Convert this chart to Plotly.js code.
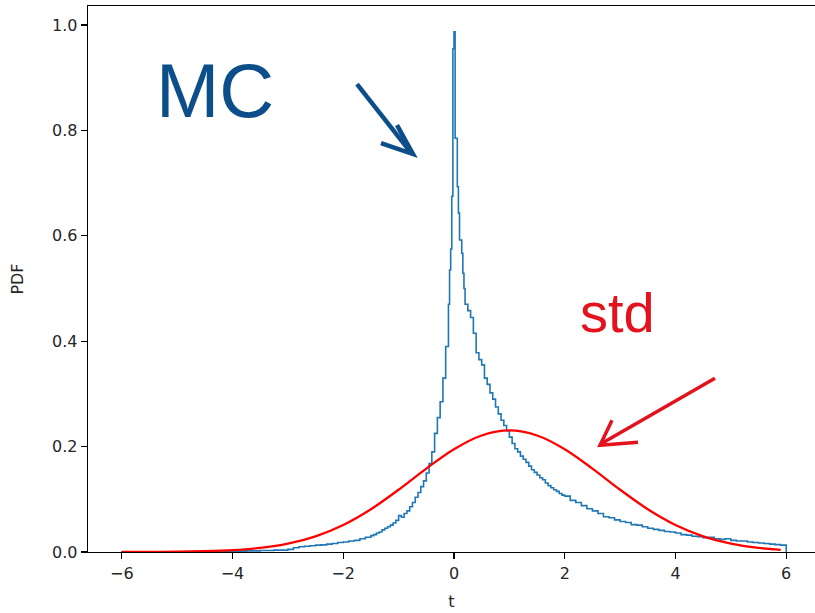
<!DOCTYPE html>
<html>
<head>
<meta charset="utf-8">
<script src="https://cdn.plot.ly/plotly-3.0.1.min.js"></script>
<style>html,body{margin:0;padding:0;background:#fff;}#chart{width:815px;height:613px;}</style>
</head>
<body>
<div id="chart"></div>
<script>
// Histogram bin segments: [start, end, bin width]
const mcBinSegments = [[-6,-3,0.25],[-3,-1.5,0.1],[-1.5,-0.1,0.05],[-0.1,0.2,0.02],[0.2,2,0.05],[2,6,0.1]];
// MC histogram densities, one array per segment
const mcFarLeft = [0.0002,0.0003,0.0004,0.0005,0.0006,0.0008,0.0010,0.0013,0.0017,0.0022,0.0028,0.0036];
const mcLeftTail = [0.005,0.008,0.010,0.011,0.012,0.013,0.0135,0.015,0.016,0.018,0.019,0.021,0.022,0.025,0.028];
const mcLeftRise = [0.031,0.033,0.036,0.038,0.042,0.045,0.048,0.051,0.055,0.060,0.069,0.066,0.073,0.078,
  0.086,0.094,0.104,0.113,0.124,0.135,0.150,0.168,0.190,0.225,0.255,0.285,0.330,0.390];
const mcPeak = [0.470,0.535,0.575,0.675,0.955,0.987,0.785,0.785,0.693,0.643,0.592,0.592,0.567,0.529,0.500];
const mcRightFall = [0.470,0.458,0.445,0.415,0.378,0.365,0.355,0.330,0.318,0.302,0.290,0.275,0.262,0.250,
  0.240,0.230,0.218,0.206,0.196,0.190,0.182,0.176,0.170,0.163,0.156,0.151,0.146,0.141,0.137,0.131,
  0.126,0.122,0.118,0.115,0.111,0.108];
const mcRightTail = [0.106,0.098,0.094,0.088,0.082,0.078,0.073,0.067,0.065,0.061,
  0.058,0.056,0.052,0.051,0.048,0.045,0.043,0.041,0.039,0.038,
  0.036,0.033,0.032,0.030,0.029,0.027,0.028,0.025,0.024,0.025,
  0.022,0.021,0.021,0.019,0.018,0.017,0.016,0.015,0.014,0.013];
// Standard (normal) PDF curve
const stdT = [-6,-5.5,-5,-4.5,-4,-3.5,-3,-2.5,-2,-1.5,-1,-0.5,0,0.5,1,1.5,2,2.5,3,3.5,4,4.5,5,5.5,5.9];
const stdPdf = [0.0001,0.0002,0.0006,0.0015,0.0035,0.0078,0.0159,0.0298,0.0513,0.0812,0.1182,0.1583,0.1951,0.2211,0.2306,0.2211,0.1951,0.1583,0.1182,0.0812,0.0513,0.0298,0.0159,0.0078,0.0042];
const xTicks = [-6,-4,-2,0,2,4,6];
const yTicks = [0,0.2,0.4,0.6,0.8,1.0];

// build bin edges
const edges = [];
mcBinSegments.forEach(([a,b,s]) => {
  const n = Math.round((b-a)/s);
  for (let i=0;i<n;i++) edges.push(Math.round((a+i*s)*10000)/10000);
});
edges.push(mcBinSegments[mcBinSegments.length-1][1]);
const mcVals = [].concat(mcFarLeft, mcLeftTail, mcLeftRise, mcPeak, mcRightFall, mcRightTail);
// step outline like matplotlib histtype='step'
const stepX = [edges[0]].concat(edges);
const stepY = [0].concat(mcVals, [0]);

const L=88, R=815, T=6, B=551.7;
const px = x => (x-L)/(R-L);
const py = y => (B-y)/(B-T);
const blueInk = '#0b4e8a', redInk = '#e4121d';
function stroke(points, color, w){
  let d = points.map((p,i)=>(i?'L ':'M ')+px(p[0]).toFixed(4)+' '+py(p[1]).toFixed(4)).join(' ');
  return {type:'path', xref:'paper', yref:'paper', path:d, line:{color:color, width:w}};
}

const data = [
  {x: stepX, y: stepY, type:'scatter', mode:'lines', line:{color:'#1f77b4', width:1.6, shape:'hv'}, hoverinfo:'skip', name:'MC'},
  {x: stdT, y: stdPdf, type:'scatter', mode:'lines', line:{color:'#ff0000', width:2.3, shape:'spline'}, hoverinfo:'skip', name:'std'}
];

const axisFont = {family:'DejaVu Sans', size:16, color:'#262626'};
const layout = {
  width:815, height:613,
  margin:{l:L, r:0, t:T, b:613-B},
  paper_bgcolor:'#fff', plot_bgcolor:'#fff',
  showlegend:false,
  xaxis:{range:[-6.61,6.52], tickvals:xTicks, ticktext:xTicks.map(v=>v<0?'\u2212'+Math.abs(v):String(v)),
    ticks:'outside', ticklen:6, tickwidth:1.2, tickcolor:'#000', showgrid:false, zeroline:false,
    showline:true, linecolor:'#000', linewidth:1.3, mirror:true, tickfont:axisFont,
    title:{text:'t', font:axisFont, standoff:14}},
  yaxis:{range:[0,1.036], tickvals:yTicks, ticktext:yTicks.map(v=>v.toFixed(1)),
    ticks:'outside', ticklen:6, tickwidth:1.2, tickcolor:'#000', showgrid:false, zeroline:false,
    showline:true, linecolor:'#000', linewidth:1.3, tickfont:axisFont,
    title:{text:'PDF', font:axisFont, standoff:24}},
  annotations:[
    {xref:'paper', yref:'paper', x:px(215), y:py(90), xanchor:'center', yanchor:'middle', showarrow:false,
     text:'MC', font:{family:'Liberation Sans', size:76, color:blueInk}},
    {xref:'paper', yref:'paper', x:px(617), y:py(312), xanchor:'center', yanchor:'middle', showarrow:false,
     text:'std', font:{family:'Liberation Sans', size:56, color:redInk}}
  ],
  shapes:[
    stroke([[357,84],[409,150]], blueInk, 4.5),
    stroke([[381,143],[413,154],[397,125]], blueInk, 4.5),
    stroke([[715,378],[602,443]], redInk, 3.5),
    stroke([[612,420],[600,445],[638,442]], redInk, 3.5)
  ]
};
Plotly.newPlot('chart', data, layout, {displayModeBar:false, staticPlot:true});
</script>
</body>
</html>
